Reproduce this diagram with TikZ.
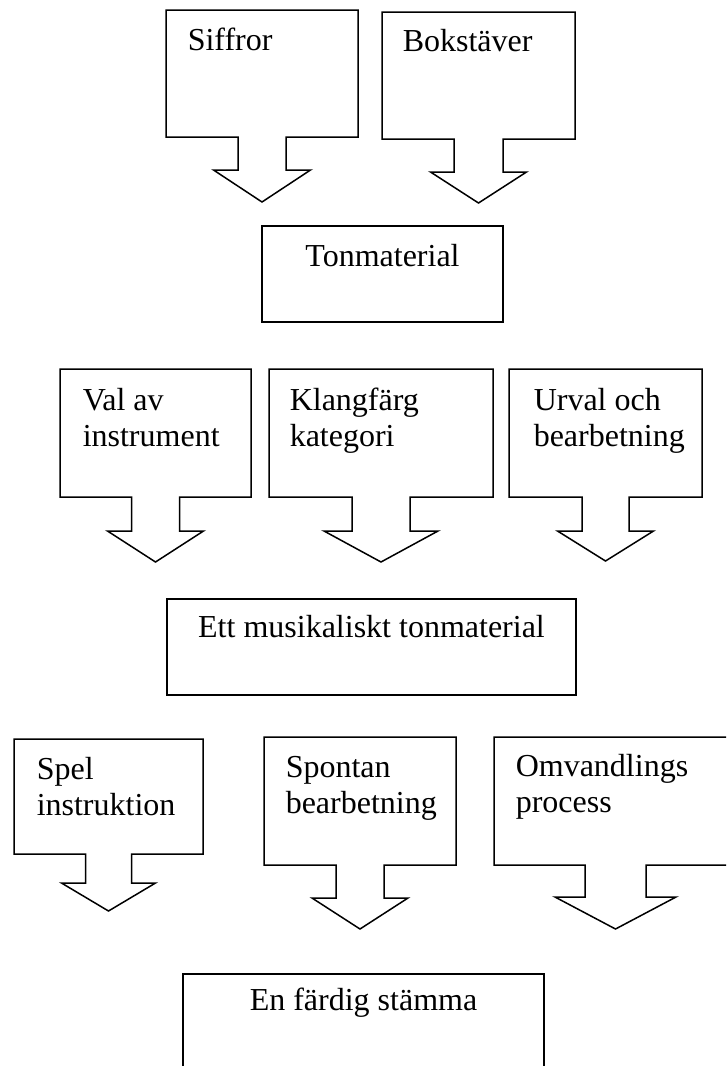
\documentclass[tikz,border=0pt]{standalone}
\usepackage{fontspec}
\setmainfont{Liberation Serif}
\usepackage{tikz}

\begin{document}
\begin{tikzpicture}[x=1pt,y=-1pt,line width=1.5pt,line join=miter,
    txt/.style={anchor=base west,inner sep=0pt,align=left,font=\fontsize{32}{36}\selectfont},
    mitt/.style={txt,anchor=base}]
    \useasboundingbox (0,0) rectangle (726,1066);
    \clip (0,0) rectangle (726,1066);
    % rad 1
    \draw (166,137) -- (166,10) -- (358,10) -- (358,137) -- (286,137) -- (286,170) -- (310.5,170)
        -- (262,202) coordinate (siffrorpil) -- (213.5,170) -- (238,170) -- (238,137) -- cycle;
    \node[txt] (siffror) at (187,50) {Siffror};
    \draw (382,139) -- (382,12) -- (575,12) -- (575,139) -- (503,139) -- (503,172) -- (526.5,172)
        -- (478.5,203) coordinate (bokstaverpil) -- (430.5,172) -- (454,172) -- (454,139) -- cycle;
    \node[txt] (bokstaver) at (402,51) {Bokstäver};
    \draw (262,226) rectangle (503,322);
    \node[mitt] (tonmaterial) at (382.5,266) {Tonmaterial};
    % rad 2 (base = sista raden)
    \draw (60,497) -- (60,369) -- (251,369) -- (251,497) -- (179.5,497) -- (179.5,531) -- (203.5,531)
        -- (155.5,562) coordinate (valpil) -- (107.5,531) -- (131.5,531) -- (131.5,497) -- cycle;
    \node[txt] (val) at (82,446) {Val av\\instrument};
    \draw (269,497) -- (269,369) -- (493,369) -- (493,497) -- (410,497) -- (410,531) -- (438,531)
        -- (381,562) coordinate (klangpil) -- (324,531) -- (352,531) -- (352,497) -- cycle;
    \node[txt] (klangfarg) at (289,446) {Klangfärg\\kategori};
    \draw (509,497) -- (509,369) -- (702,369) -- (702,497) -- (629,497) -- (629,531) -- (653.5,531)
        -- (605.5,561) coordinate (urvalpil) -- (557.5,531) -- (582,531) -- (582,497) -- cycle;
    \node[txt] (urval) at (533,446) {Urval och\\bearbetning};
    \draw (167,599) rectangle (576,695);
    \node[mitt] (musikaliskt) at (371.5,637) {Ett musikaliskt tonmaterial};
    % rad 3
    \draw (14,854) -- (14,739) -- (203,739) -- (203,854) -- (131.5,854) -- (131.5,883) -- (155.5,883)
        -- (108.5,911) coordinate (spelpil) -- (61.5,883) -- (85.5,883) -- (85.5,854) -- cycle;
    \node[txt] (spel) at (36,815) {Spel\\instruktion};
    \draw (264,865) -- (264,737) -- (456,737) -- (456,865) -- (384,865) -- (384,898) -- (408,898)
        -- (360,929) coordinate (spontanpil) -- (312,898) -- (336,898) -- (336,865) -- cycle;
    \node[txt] (spontan) at (285,813) {Spontan\\bearbetning};
    \draw (494,865) -- (494,737) -- (737,737) -- (737,865) -- (646,865) -- (646,897) -- (676,897)
        -- (615.5,929) coordinate (omvandlingspil) -- (555,897) -- (585,897) -- (585,865) -- cycle;
    \node[txt] (omvandlings) at (515,812) {Omvandlings\\process};
    \draw (183,1080) -- (183,974) -- (544,974) -- (544,1080);
    \node[mitt] (stamma) at (363.5,1010) {En färdig stämma};
\end{tikzpicture}
\end{document}
